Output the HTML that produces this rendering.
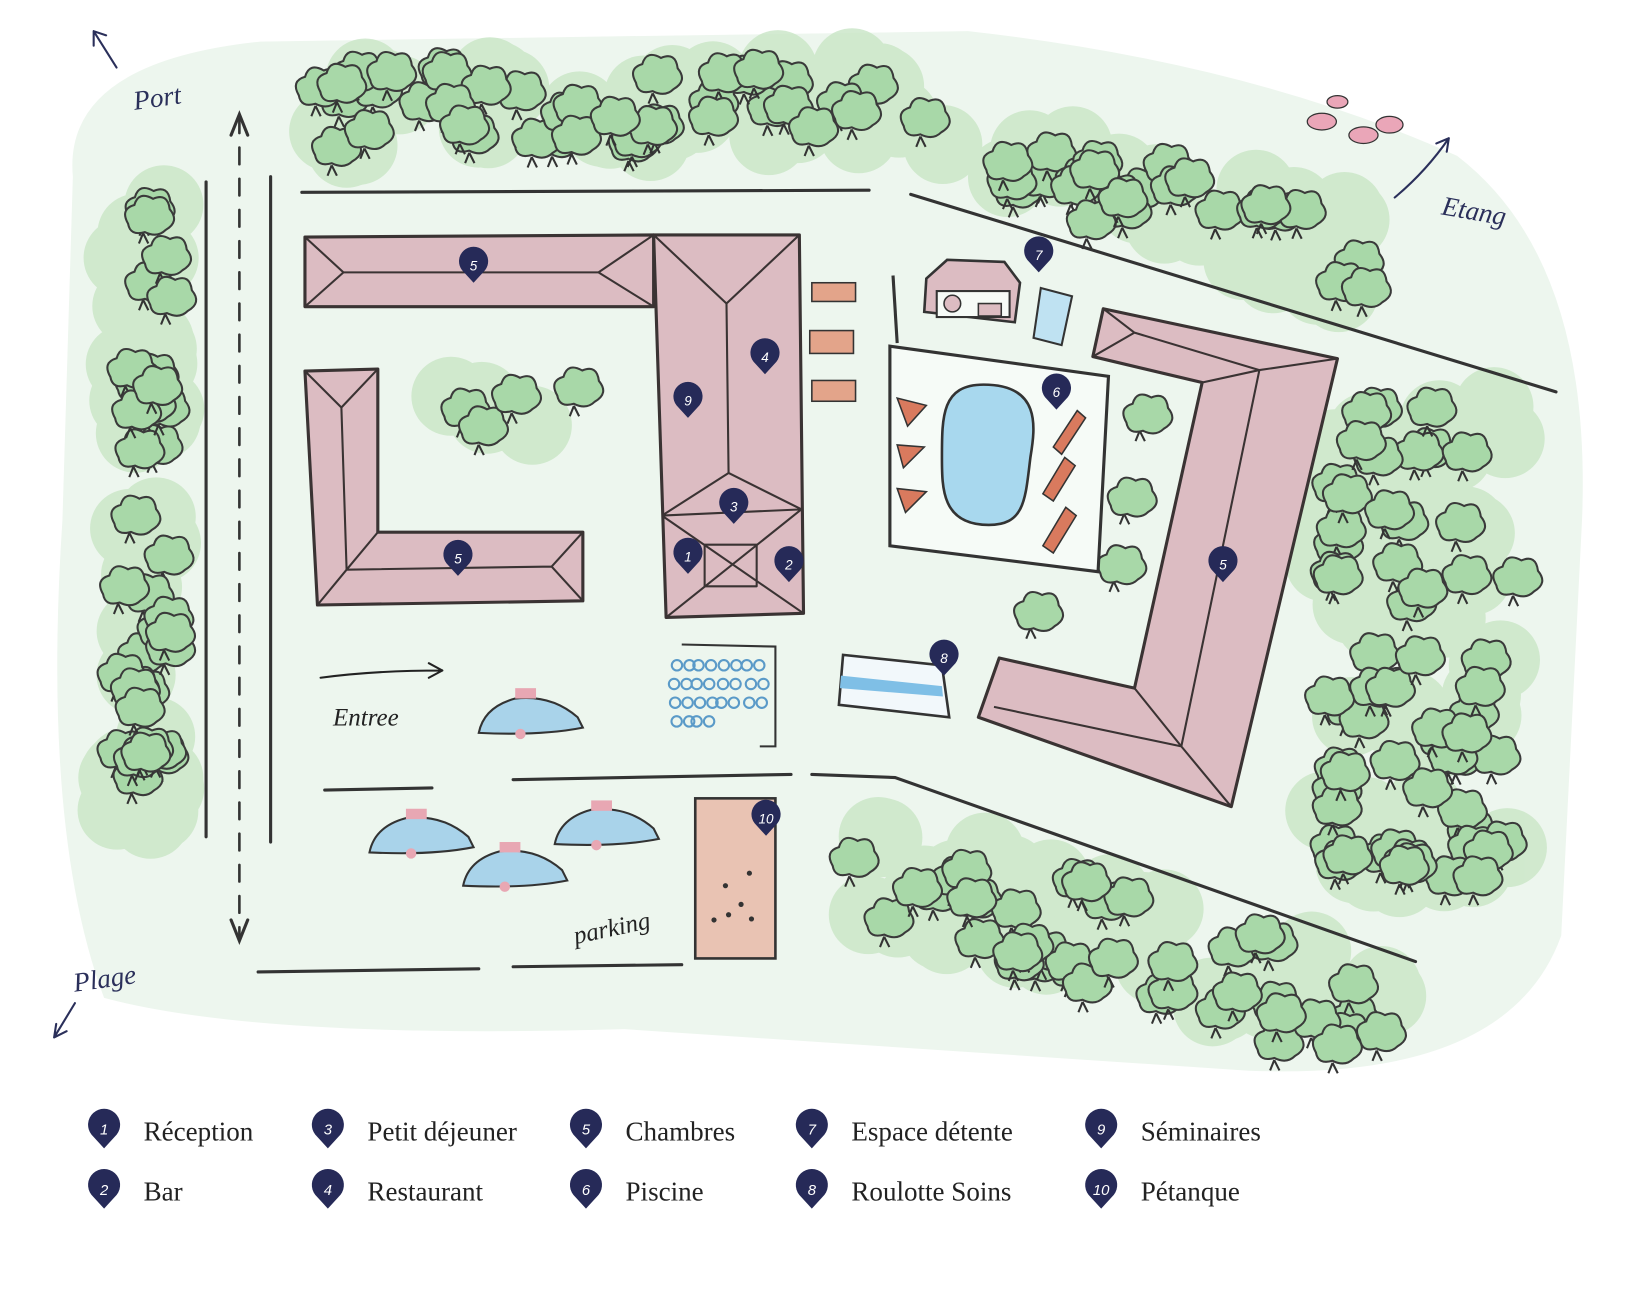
<!DOCTYPE html>
<html><head><meta charset="utf-8"><style>
html,body{margin:0;padding:0;background:#fff;}
svg{display:block;}
.lg{font-family:"Liberation Serif",serif;font-size:26px;fill:#222;}
.hw{font-family:"Liberation Serif",serif;font-style:italic;fill:#2a2f5a;}
.pn{font-family:"Liberation Sans",sans-serif;font-style:italic;font-size:13px;fill:#fff;text-anchor:middle;}
</style></head><body>
<svg id="s" width="1632" height="1289" viewBox="0 0 1568 1240" preserveAspectRatio="none" xmlns="http://www.w3.org/2000/svg">
<defs>
<path id="pin" d="M0,17 L-11,5 A14,14 0 1 1 11,5 Z" fill="#262a58"/>
</defs>
<path d="M70,170 Q60,60 250,40 L930,30 Q1200,60 1400,150 Q1530,250 1520,500 L1500,900 Q1450,1040 1200,1030 L600,990 Q250,1000 100,960 Q40,800 60,500 Z" fill="#edf6ee"/>
<g id="wash" fill="#c9e6c6" opacity="0.8"></g>
<g id="trees"></g>
<g stroke="#333" stroke-width="3" fill="none" stroke-linecap="round">
<line x1="198" y1="175" x2="198" y2="805"/>
<line x1="260" y1="170" x2="260" y2="810"/>
<line x1="230" y1="112" x2="230" y2="900" stroke-dasharray="16 14" stroke-width="2.5"/>
<path d="M222,130 L230,110 L238,130 M222,885 L230,905 L238,885"/>
<line x1="290" y1="185" x2="835" y2="183"/>
<line x1="875" y1="187" x2="1495" y2="377"/>
<path d="M780,745 L860,748 L1360,925"/>
<line x1="312" y1="760" x2="415" y2="758"/>
<line x1="493" y1="750" x2="760" y2="745"/>
<line x1="248" y1="935" x2="460" y2="932"/>
<line x1="493" y1="930" x2="655" y2="928"/>
<path d="M90,30 L112,65 M90,30 L90,44 M90,30 L102,34" stroke="#2a2f5a" stroke-width="2"/>
<path d="M1340,190 Q1370,165 1392,133 M1392,133 L1380,138 M1392,133 L1390,146" stroke="#2a2f5a" stroke-width="2"/>
<path d="M72,965 L52,998 M52,998 L54,985 M52,998 L64,992" stroke="#2a2f5a" stroke-width="2"/>
<path d="M308,652 Q360,645 425,645 M425,645 L412,638 M425,645 L412,652" stroke="#222" stroke-width="2"/>
</g>
<g fill="#dcbcc2" stroke="#3a3333" stroke-width="3" stroke-linejoin="round">
<path d="M293,228 L628,226 L628,295 L293,295 Z"/>
<path d="M293,228 L330,262 L575,262 L628,226 M293,295 L330,262 M575,262 L628,295" fill="none" stroke-width="2"/>
<path d="M628,226 L768,226 L772,590 L640,594 Z"/>
<path d="M628,226 L698,292 L768,226 M698,292 L700,455 L636,496 M700,455 L770,490 M636,496 L770,490 M636,496 L772,590 M770,490 L640,594" fill="none" stroke-width="2"/>
<rect x="677" y="524" width="50" height="40" fill="none" stroke-width="2"/>
<path d="M293,357 L363,355 L363,512 L560,512 L560,578 L305,582 Z"/>
<path d="M293,357 L328,392 L363,355 M328,392 L333,548 L305,582 M333,548 L530,545 L560,512 M530,545 L560,578 M363,512 L333,548" fill="none" stroke-width="2"/>
<path d="M1060,297 L1285,345 L1183,776 L940,690 L960,633 L1090,662 L1155,368 L1050,343 Z"/>
<path d="M1060,297 L1090,320 L1050,343 M1090,320 L1210,356 L1285,345 M1210,356 L1155,368 M1210,356 L1135,718 L1183,776 M1135,718 L1090,662 M1135,718 L955,680" fill="none" stroke-width="2"/>
</g>
<path d="M855,333 L1065,362 L1055,550 L855,525 Z" fill="#f6fbf7" stroke="#333" stroke-width="3"/>
<path d="M858,265 L862,330" stroke="#333" stroke-width="3"/>
<path d="M945,370 C1000,370 995,410 990,440 C985,480 985,505 950,505 C905,505 905,470 905,440 C905,400 905,370 945,370Z" fill="#a8d8ee" stroke="#333" stroke-width="2.5"/>
<g fill="#d97a5e" stroke="#333" stroke-width="1.5">
<path d="M862,383 L890,390 L872,410 Z"/><path d="M862,428 L888,430 L868,450 Z"/><path d="M862,470 L890,473 L870,493 Z"/>
<path d="M1012,430 L1035,395 L1043,402 L1020,437 Z"/><path d="M1002,475 L1023,440 L1033,448 L1012,482 Z"/><path d="M1002,525 L1024,488 L1034,496 L1012,532 Z"/>
</g>
<path d="M890,268 L910,250 L965,252 L980,272 L975,310 L888,300 Z" fill="#dcbcc2" stroke="#333" stroke-width="2.5"/>
<rect x="900" y="280" width="70" height="25" fill="#f6fbf7" stroke="#333" stroke-width="2"/>
<circle cx="915" cy="292" r="8" fill="#dcbcc2" stroke="#333" stroke-width="1.5"/><rect x="940" y="292" width="22" height="12" fill="#dcbcc2" stroke="#333" stroke-width="1.5"/>
<path d="M1000,277 L1030,285 L1020,332 L993,325 Z" fill="#bfe2f2" stroke="#333" stroke-width="2"/>
<g fill="#e3a48a" stroke="#333" stroke-width="1.5"><rect x="780" y="272" width="42" height="18"/><rect x="778" y="318" width="42" height="22"/><rect x="780" y="366" width="42" height="20"/></g>
<rect x="668" y="768" width="77" height="154" fill="#e9c3b3" stroke="#333" stroke-width="2.5"/>
<g fill="#333"><circle cx="697" cy="852" r="2.5"/><circle cx="720" cy="840" r="2.5"/><circle cx="712" cy="870" r="2.5"/><circle cx="686" cy="885" r="2.5"/><circle cx="700" cy="880" r="2.5"/><circle cx="722" cy="884" r="2.5"/></g>
<path d="M655,620 L745,622 L745,718 L730,718" fill="none" stroke="#333" stroke-width="2"/>
<g id="bikes" fill="none" stroke="#5a9ac8" stroke-width="2"></g>
<g fill="#a9d3ea" stroke="#333" stroke-width="2">
<path d="M460,705 Q465,680 495,672 Q530,668 555,690 L560,700 Q520,708 460,705Z"/>
<path d="M355,820 Q360,795 390,787 Q425,783 450,805 L455,815 Q415,823 355,820Z"/>
<path d="M445,852 Q450,827 480,819 Q515,815 540,837 L545,847 Q505,855 445,852Z"/>
<path d="M533,812 Q538,787 568,779 Q603,775 628,797 L633,807 Q593,815 533,812Z"/>
</g>
<g fill="#e8a7b3"><circle cx="500" cy="706" r="5"/><circle cx="395" cy="821" r="5"/><circle cx="485" cy="853" r="5"/><circle cx="573" cy="813" r="5"/><rect x="495" y="662" width="20" height="10"/><rect x="390" y="778" width="20" height="10"/><rect x="480" y="810" width="20" height="10"/><rect x="568" y="770" width="20" height="10"/></g>
<path d="M810,630 L905,640 L912,690 L806,678 Z" fill="#f2f8fb" stroke="#333" stroke-width="2.5"/>
<path d="M808,650 L905,660 L906,670 L807,662 Z" fill="#7fbfe6"/>
<text class="hw" x="128" y="103" font-size="26" transform="rotate(-8 148 95)">Port</text>
<text class="hw" x="1385" y="212" font-size="26" transform="rotate(10 1418 205)">Etang</text>
<text class="hw" x="70" y="950" font-size="26" transform="rotate(-8 100 940)">Plage</text>
<text x="320" y="698" font-size="24" font-family="Liberation Serif,serif" font-style="italic" fill="#222">Entree</text>
<text x="550" y="900" font-size="24" font-family="Liberation Serif,serif" font-style="italic" fill="#222" transform="rotate(-12 590 890)">parking</text>
<g fill="#eaa6b8" stroke="#333" stroke-width="1.2"><ellipse cx="1270" cy="117" rx="14" ry="8"/><ellipse cx="1310" cy="130" rx="14" ry="8"/><ellipse cx="1335" cy="120" rx="13" ry="8"/><ellipse cx="1285" cy="98" rx="10" ry="6"/></g>
<g id="pins"></g>
<g id="legend"></g>
</svg>
<script>
var s=12345;function r(){s=(s*16807)%2147483647;return s/2147483647;}
var NS="http://www.w3.org/2000/svg";
function el(p,t,a){var e=document.createElementNS(NS,t);for(var k in a)e.setAttribute(k,a[k]);p.appendChild(e);return e;}
var T=document.getElementById("trees"),W=document.getElementById("wash");
function tree(x,y,sc){sc=sc||1;
 el(T,"path",{d:"M"+x+","+(y+18*sc)+" l-4,10 M"+x+","+(y+18*sc)+" l5,10",stroke:"#333","stroke-width":2,fill:"none"});
 var g=el(T,"g",{fill:"#a8d8a8",stroke:"#3a3a3a","stroke-width":2});
 el(g,"path",{d:"M"+(x-16*sc)+","+(y+8*sc)+" q-8,-14 6,-18 q4,-14 18,-6 q14,-6 16,10 q10,12 -4,20 q-8,8 -20,2 q-14,4 -16,-8z"});
}
function band(x1,y1,x2,y2,w,n,sc){
 var dx=x2-x1,dy=y2-y1,L=Math.hypot(dx,dy)||1;
 for(var i=0;i<n;i++){var t=r(),o=(r()-0.5)*w;
 el(W,"circle",{cx:x1+dx*t-dy/L*o,cy:y1+dy*t+dx/L*o,r:38});}
 for(var i=0;i<n;i++){var t=r(),o=(r()-0.5)*w;
 tree(x1+dx*t-dy/L*o,y1+dy*t+dx/L*o,sc);}
}
band(135,190,135,790,50,36,0.9);
band(300,105,910,105,80,40,1);
band(960,150,1320,250,80,26,1);
band(1360,390,1360,850,190,60,1);
band(810,830,1340,990,100,40,1);
band(400,390,570,390,40,4,1);
[[1095,400],[1080,480],[1070,545],[990,590]].forEach(function(p){tree(p[0],p[1],0.8);});
var B=document.getElementById("bikes");
for(var i=0;i<14;i++){var x=645+(i%4)*24+r()*6,y=640+Math.floor(i/4)*18;el(B,"circle",{cx:x,cy:y,r:5});el(B,"circle",{cx:x+12,cy:y,r:5});}
var P=document.getElementById("pins");
[["5",455,255],["4",735,343],["9",661,385],["3",705,487],["1",661,535],["2",758,543],["5",440,537],["7",998,245],["6",1015,377],["5",1175,543],["8",907,633],["10",736,787]].forEach(function(p){
 var g=el(P,"g",{transform:"translate("+p[1]+","+p[2]+")"});el(g,"use",{href:"#pin"});var t=el(g,"text",{"class":"pn",x:0,y:5});t.textContent=p[0];});
var Lg=document.getElementById("legend");
[["1","Réception",100,1088],["2","Bar",100,1146],["3","Petit déjeuner",315,1088],["4","Restaurant",315,1146],["5","Chambres",563,1088],["6","Piscine",563,1146],["7","Espace détente",780,1088],["8","Roulotte Soins",780,1146],["9","Séminaires",1058,1088],["10","Pétanque",1058,1146]].forEach(function(p){
 var g=el(Lg,"g",{transform:"translate("+p[2]+","+(p[3]-2)+") scale(1.1)"});el(g,"use",{href:"#pin"});var t=el(g,"text",{"class":"pn",x:0,y:5});t.textContent=p[0];
 var tx=el(Lg,"text",{"class":"lg",x:p[2]+38,y:p[3]+9});tx.textContent=p[1];});
</script>
</body></html>
